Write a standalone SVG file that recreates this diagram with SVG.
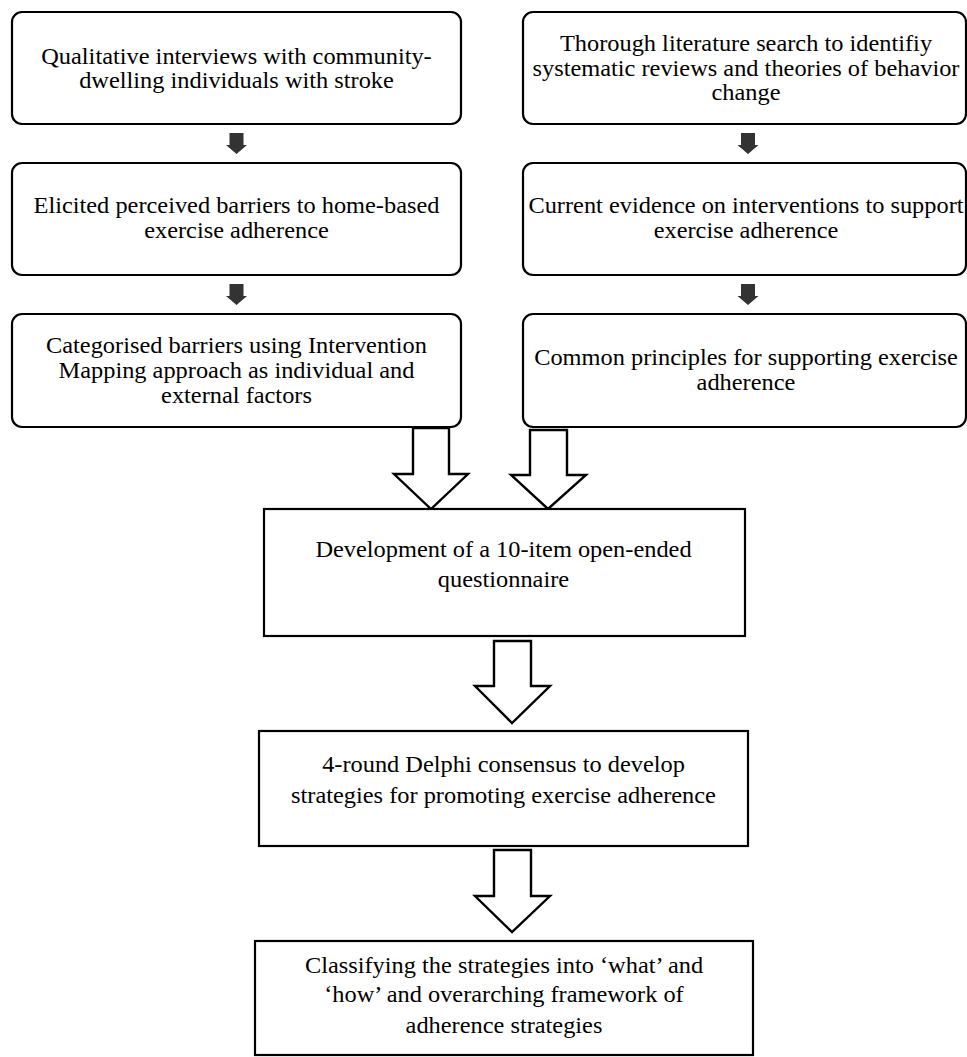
<svg xmlns="http://www.w3.org/2000/svg" width="967" height="1057" viewBox="0 0 967 1057">
<style>
.box{fill:#fff;stroke:#000;stroke-width:2.2}
.t{font-family:"Liberation Serif","Times New Roman",serif;font-size:23px;fill:#000;text-anchor:middle}
.sa{fill:#333;stroke:none}
.ba{fill:#fff;stroke:#000;stroke-width:2.4;stroke-linejoin:miter}
</style>
<rect width="967" height="1057" fill="#fff"/>
<g id="connectors">
<path class="sa" d="M229.5,133 H243.5 V145 H247 L236.5,154 L226,145 H229.5 Z"/>
<path class="sa" d="M229.5,284 H243.5 V296 H247 L236.5,305 L226,296 H229.5 Z"/>
<path class="sa" d="M741,133 H755 V145 H758.5 L748,154 L737.5,145 H741 Z"/>
<path class="sa" d="M741,284 H755 V296 H758.5 L748,305 L737.5,296 H741 Z"/>
<path class="ba" d="M413,428 H449 V474 H468 L431,509 L394,474 H413 Z"/>
<path class="ba" d="M530,430 H567 V475 H586 L548,509 L511,475 H530 Z"/>
<path class="ba" d="M494,641 H531 V686 H550 L512,723 L475,686 H494 Z"/>
<path class="ba" d="M494,850 H531 V896 H550 L512,932 L475,896 H494 Z"/>
</g>
<g id="n1">
<rect class="box" x="12" y="12" width="449" height="112" rx="10"/>
<g transform="translate(236.5,0) scale(1.06,1)"><text class="t" x="0" y="64">Qualitative interviews with community-</text><text class="t" x="0" y="88">dwelling individuals with stroke</text></g>
</g>
<g id="n2">
<rect class="box" x="12" y="163" width="449" height="112" rx="10"/>
<g transform="translate(236.5,0) scale(1.06,1)"><text class="t" x="0" y="213">Elicited perceived barriers to home-based</text><text class="t" x="0" y="238">exercise adherence</text></g>
</g>
<g id="n3">
<rect class="box" x="12" y="314" width="449" height="113" rx="10"/>
<g transform="translate(236.5,0) scale(1.06,1)"><text class="t" x="0" y="353">Categorised barriers using Intervention</text><text class="t" x="0" y="378">Mapping approach as individual and</text><text class="t" x="0" y="403">external factors</text></g>
</g>
<g id="n4">
<rect class="box" x="523" y="12" width="443" height="112" rx="10"/>
<g transform="translate(746,0) scale(1.06,1)"><text class="t" x="0" y="51">Thorough literature search to identifiy</text><text class="t" x="0" y="76">systematic reviews and theories of behavior</text><text class="t" x="0" y="100">change</text></g>
</g>
<g id="n5">
<rect class="box" x="523" y="163" width="443" height="112" rx="10"/>
<g transform="translate(746,0) scale(1.06,1)"><text class="t" x="0" y="213">Current evidence on interventions to support</text><text class="t" x="0" y="238">exercise adherence</text></g>
</g>
<g id="n6">
<rect class="box" x="523" y="314" width="443" height="113" rx="10"/>
<g transform="translate(746,0) scale(1.06,1)"><text class="t" x="0" y="365">Common principles for supporting exercise</text><text class="t" x="0" y="390">adherence</text></g>
</g>
<g id="n7">
<rect class="box" x="264" y="509" width="481" height="127"/>
<g transform="translate(503.5,0) scale(1.06,1)"><text class="t" x="0" y="557">Development of a 10-item open-ended</text><text class="t" x="0" y="587">questionnaire</text></g>
</g>
<g id="n8">
<rect class="box" x="259" y="731" width="489" height="115"/>
<g transform="translate(503.5,0) scale(1.06,1)"><text class="t" x="0" y="772">4-round Delphi consensus to develop</text><text class="t" x="0" y="803">strategies for promoting exercise adherence</text></g>
</g>
<g id="n9">
<rect class="box" x="255" y="941" width="498" height="114"/>
<g transform="translate(504,0) scale(1.06,1)"><text class="t" x="0" y="973">Classifying the strategies into ‘what’ and</text><text class="t" x="0" y="1002">‘how’ and overarching framework of</text><text class="t" x="0" y="1033">adherence strategies</text></g>
</g>
</svg>
